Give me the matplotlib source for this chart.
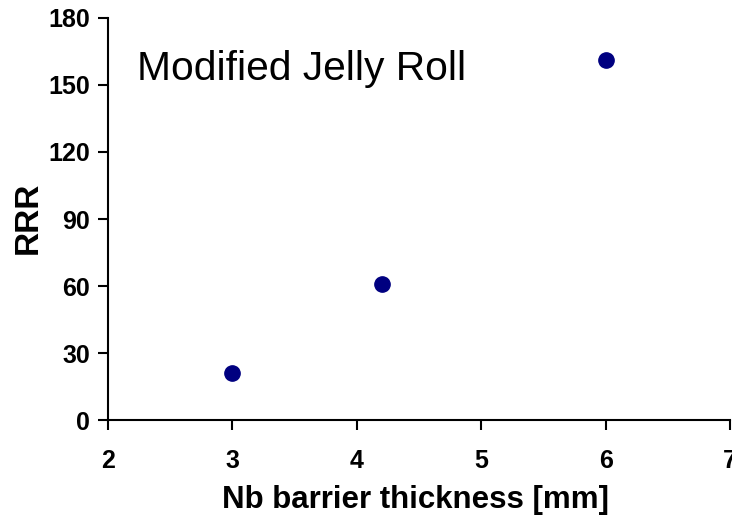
import matplotlib.pyplot as plt

# Data
barrier_um = [3.0, 4.2, 6.0]
rrr = [21, 61, 161]

x_ticks = [2, 3, 4, 5, 6, 7]
y_ticks = [0, 30, 60, 90, 120, 150, 180]

plt.rcParams['font.family'] = ['Liberation Sans', 'DejaVu Sans']

fig = plt.figure(figsize=(7.32, 5.17), dpi=100)
ax = fig.add_axes([0.1475, 0.1876, 0.8498, 0.7776])

ax.plot(barrier_um, rrr, linestyle='none', marker='o', markersize=11,
        color='#000080', markeredgecolor='#000080')

ax.set_xlim(2, 7)
ax.set_ylim(0, 180)
ax.set_xticks(x_ticks)
ax.set_yticks(y_ticks)

for side in ['top', 'right']:
    ax.spines[side].set_visible(False)
for side in ['left', 'bottom']:
    ax.spines[side].set_linewidth(1.5)

ax.tick_params(direction='out', length=7, width=1.5)
ax.tick_params(axis='y', labelsize=18, pad=6)
ax.tick_params(axis='x', labelsize=18, pad=14)
for lbl in ax.get_xticklabels() + ax.get_yticklabels():
    lbl.set_fontweight('bold')

ax.set_xlabel('Nb barrier thickness [mm]', fontsize=22.5, fontweight='bold')
ax.xaxis.label.set_va('baseline')
ax.xaxis.set_label_coords(0.495, -0.219)

ax.set_ylabel('RRR', fontsize=24, fontweight='bold')
ax.yaxis.label.set_va('center')
ax.yaxis.set_label_coords(-0.1286, 0.5025)

ax.text(0.046, 0.8458, 'Modified Jelly Roll', transform=ax.transAxes,
        fontsize=29.3, ha='left', va='baseline')

fig.savefig('out.png', dpi=100)
